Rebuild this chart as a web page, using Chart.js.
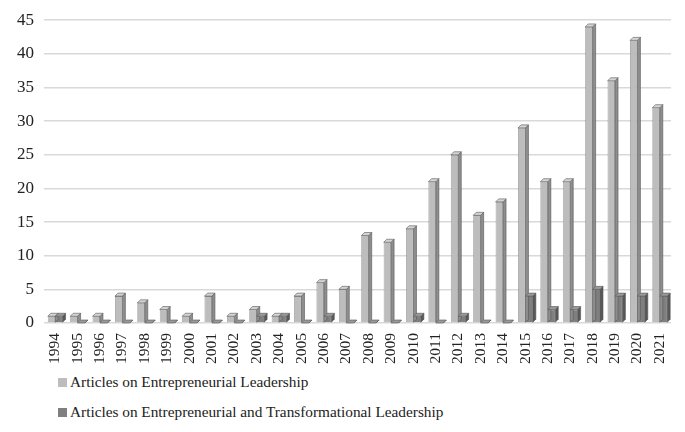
<!DOCTYPE html>
<html>
<head>
<meta charset="utf-8">
<script src="https://cdn.jsdelivr.net/npm/chart.js@4.4.0/dist/chart.umd.min.js"></script>
<style>
  body { margin: 0; background: #fff; }
  #wrap { position: relative; width: 685px; height: 432px; }
  #box { position: absolute; left: 0; top: 0; width: 685px; height: 366px; }
  .legend { position: absolute; left: 58px; font-family: "Liberation Serif", serif; font-size: 15.3px; color: #222; }
  .legend span { display: inline-block; width: 9px; height: 9px; margin-right: 3px; }
</style>
</head>
<body>
<div id="wrap">
  <div id="box"><canvas id="chart"></canvas></div>
  <div class="legend" style="top: 373px;"><span style="background:#bdbdbd"></span>Articles on Entrepreneurial Leadership</div>
  <div class="legend" style="top: 403px;"><span style="background:#7f7f7f"></span>Articles on Entrepreneurial and Transformational Leadership</div>
</div>
<script>
// Data
const years = ["1994","1995","1996","1997","1998","1999","2000","2001","2002","2003","2004","2005","2006","2007",
               "2008","2009","2010","2011","2012","2013","2014","2015","2016","2017","2018","2019","2020","2021"];
const entrepreneurial = [1,1,1,4,3,2,1,4,1,2,1,4,6,5,13,12,14,21,25,16,18,29,21,21,44,36,42,32];
const entreAndTransf  = [1,0,0,0,0,0,0,0,0,1,1,0,1,0,0,0,1,0,1,0,0,4,2,2,5,4,4,4];
const yTicks = [0,5,10,15,20,25,30,35,40,45];

const frontColors = ["#bdbdbd", "#7f7f7f"];
const sideColors = ["#8e8e8e", "#585858"];
const topColors = ["#d4d4d4", "#9a9a9a"];

// fake 3D faces drawn around each bar the library placed
const bar3d = {
    id: "bar3d",
    afterDatasetsDraw(chart) {
        const ctx = chart.ctx;
        const d = 3;
        chart.data.datasets.forEach((ds, i) => {
            chart.getDatasetMeta(i).data.forEach(bar => {
                const p = bar.getProps(["x", "y", "base", "width"], true);
                const l = p.x - p.width / 2, r = p.x + p.width / 2;
                ctx.save();
                ctx.strokeStyle = "#555";
                ctx.lineWidth = 0.6;
                // side
                ctx.beginPath();
                ctx.moveTo(r, p.y);
                ctx.lineTo(r + d, p.y - d);
                ctx.lineTo(r + d, p.base - d);
                ctx.lineTo(r, p.base);
                ctx.closePath();
                ctx.fillStyle = sideColors[i];
                ctx.fill();
                ctx.stroke();
                // top
                ctx.beginPath();
                ctx.moveTo(l, p.y);
                ctx.lineTo(l + d, p.y - d);
                ctx.lineTo(r + d, p.y - d);
                ctx.lineTo(r, p.y);
                ctx.closePath();
                ctx.fillStyle = topColors[i];
                ctx.fill();
                ctx.stroke();
                ctx.restore();
            });
        });
    }
};

const ctx = document.getElementById("chart").getContext("2d");
new Chart(ctx, {
    type: "bar",
    data: {
        labels: years,
        datasets: [
            {
                label: "Articles on Entrepreneurial Leadership",
                data: entrepreneurial,
                backgroundColor: frontColors[0],
                borderColor: "#6e6e6e",
                borderWidth: 0.6
            },
            {
                label: "Articles on Entrepreneurial and Transformational Leadership",
                data: entreAndTransf,
                backgroundColor: frontColors[1],
                borderColor: "#505050",
                borderWidth: 0.6
            }
        ]
    },
    options: {
        responsive: true,
        maintainAspectRatio: false,
        animation: false,
        layout: { padding: { top: 3, right: 14, left: 7, bottom: 0 } },
        plugins: {
            legend: { display: false },
            tooltip: { enabled: false }
        },
        datasets: {
            bar: { categoryPercentage: 0.66, barPercentage: 1.0 }
        },
        scales: {
            x: {
                grid: { display: false },
                border: { display: false },
                ticks: {
                    minRotation: 90,
                    maxRotation: 90,
                    color: "#222",
                    padding: 2,
                    font: { family: "Liberation Serif", size: 15.5 }
                }
            },
            y: {
                min: 0,
                max: 45,
                afterBuildTicks: axis => { axis.ticks = yTicks.map(v => ({ value: v })); },
                grid: { color: "#d9d9d9", lineWidth: 1.5, drawTicks: false },
                border: { display: false },
                ticks: {
                    color: "#222",
                    padding: 10,
                    font: { family: "Liberation Serif", size: 17 }
                }
            }
        }
    },
    plugins: [bar3d]
});
</script>
</body>
</html>
